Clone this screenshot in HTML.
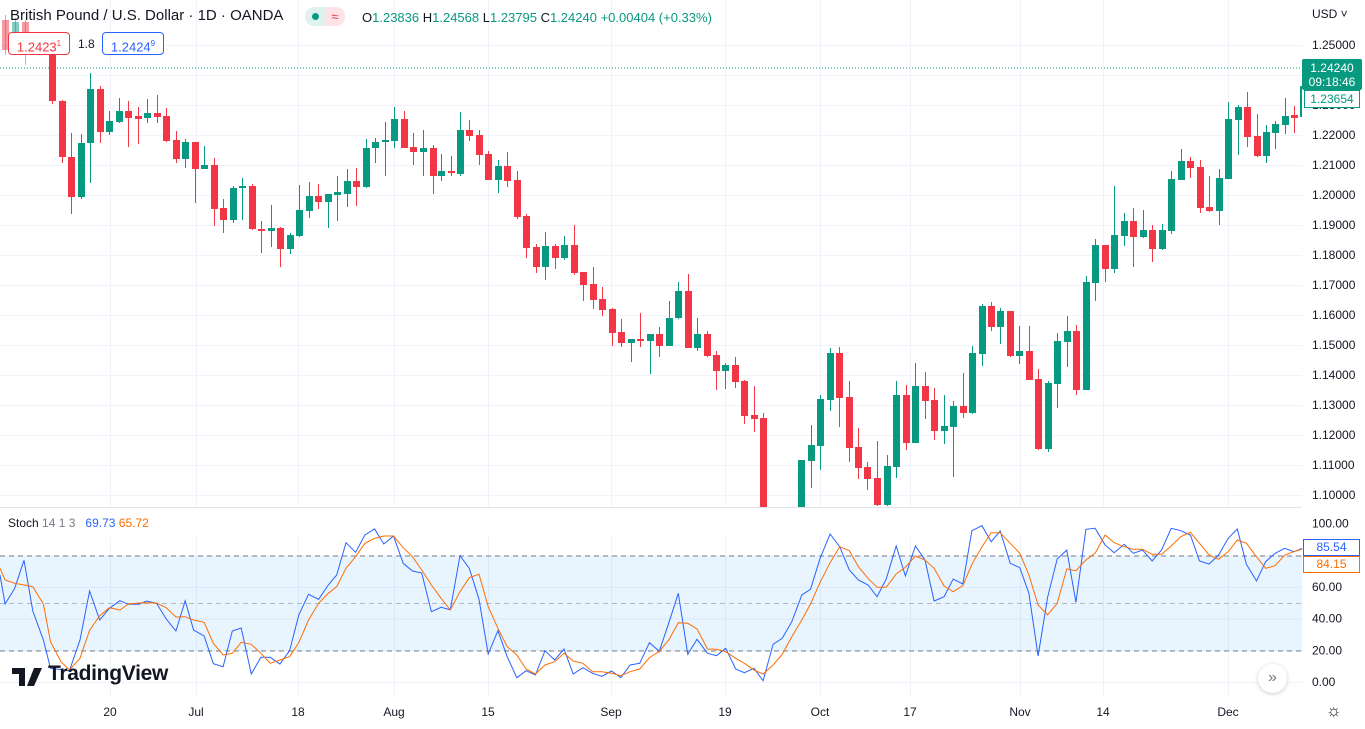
<!DOCTYPE html>
<html><head><meta charset="utf-8">
<style>
html,body{margin:0;padding:0;background:#fff;width:1365px;height:729px;overflow:hidden;font-family:"Liberation Sans",sans-serif;}
#c{position:absolute;left:0;top:0}
.t{position:absolute;white-space:nowrap;color:#131722}
</style></head><body>
<svg id="c" width="1365" height="729" xmlns="http://www.w3.org/2000/svg" font-family="Liberation Sans, sans-serif">
<g id="grid" stroke="#f0f3fa" stroke-width="1"></g>
<rect x="0" y="556" width="1302" height="95" fill="#2196f3" fill-opacity="0.1"/>
<g stroke="#787b86" stroke-dasharray="5,4" stroke-width="1">
<line x1="0" y1="556" x2="1302" y2="556"/>
<line x1="0" y1="603.5" x2="1302" y2="603.5" stroke-opacity="0.5"/>
<line x1="0" y1="651" x2="1302" y2="651"/>
</g>
<line x1="0" y1="68" x2="1302" y2="68" stroke="#089981" stroke-dasharray="1,2"/>
<g id="candles"></g>
<g id="stoch"></g>
<g id="axis" font-size="12" fill="#131722"></g>
</svg>

<div class="t" style="left:10px;top:7px;font-size:15px">British Pound / U.S. Dollar · 1D · OANDA</div>
<div style="position:absolute;left:305px;top:7px;width:20px;height:19px;background:#e0f2ef;border-radius:9px 0 0 9px"></div>
<div style="position:absolute;left:312px;top:13px;width:7px;height:7px;background:#089981;border-radius:50%"></div>
<div style="position:absolute;left:325px;top:7px;width:20px;height:19px;background:#fde3e7;border-radius:0 9px 9px 0;color:#f23645;font-size:13px;text-align:center;line-height:19px">≈</div>
<div class="t" style="left:362px;top:10px;font-size:13px">O<span style="color:#089981">1.23836</span> H<span style="color:#089981">1.24568</span> L<span style="color:#089981">1.23795</span> C<span style="color:#089981">1.24240</span> <span style="color:#089981">+0.00404 (+0.33%)</span></div>
<div style="position:absolute;left:8px;top:32px;width:60px;height:21px;border:1px solid #f23645;border-radius:4px;background:#fff;color:#f23645;font-size:13px;line-height:21px;text-align:center">1.2423<sup style="font-size:8px">1</sup></div>
<div class="t" style="left:78px;top:37px;font-size:12px">1.8</div>
<div style="position:absolute;left:102px;top:32px;width:60px;height:21px;border:1px solid #2962ff;border-radius:4px;background:#fff;color:#2962ff;font-size:13px;line-height:21px;text-align:center">1.2424<sup style="font-size:8px">9</sup></div>
<div class="t" style="left:1312px;top:7px;font-size:12px">USD ˅</div>

<div style="position:absolute;left:1302px;top:59px;width:60px;height:31px;background:#089981;color:#fff;font-size:12px;text-align:center;line-height:14px;padding-top:2px;box-sizing:border-box;border-radius:2px">1.24240<br>09:18:46</div>
<div style="position:absolute;left:1304px;top:90px;width:54px;height:16px;border:1px solid #089981;background:#fff;color:#089981;font-size:12px;text-align:center;line-height:16px">1.23654</div>
<div style="position:absolute;left:1303px;top:539px;width:55px;height:15px;border:1px solid #2962ff;background:#fff;color:#2962ff;font-size:12px;text-align:center;line-height:15px">85.54</div>
<div style="position:absolute;left:1303px;top:556px;width:55px;height:15px;border:1px solid #ff6d00;background:#fff;color:#ff6d00;font-size:12px;text-align:center;line-height:15px">84.15</div>

<div class="t" style="left:8px;top:516px;font-size:12px">Stoch <span style="color:#787b86">14 1 3</span> &nbsp;&nbsp;<span style="color:#2962ff">69.73</span> <span style="color:#ff6d00">65.72</span></div>
<svg style="position:absolute;left:12px;top:668px" width="32" height="18"><path d="M0 0h13v18h-6v-12h-7z M15 0a3 3 0 1 1 0.01 0z M22 0h8l-8 18h-7z" fill="#131722"/></svg>
<div class="t" style="left:48px;top:662px;font-size:21px;font-weight:bold;letter-spacing:-0.3px">TradingView</div>
<div style="position:absolute;left:1258px;top:664px;width:29px;height:29px;border-radius:50%;background:#fff;box-shadow:0 1px 4px rgba(0,0,0,0.2);color:#787b86;text-align:center;line-height:28px;font-size:16px">»</div>
<div class="t" style="left:1326px;top:701px;font-size:17px;color:#131722">☼</div>

<script>
var NS="http://www.w3.org/2000/svg";
function el(p,n,a){var e=document.createElementNS(NS,n);for(var k in a)e.setAttribute(k,a[k]);p.appendChild(e);return e;}
var grid=document.getElementById('grid'),axis=document.getElementById('axis');
var vx=[110,196,298,394,488,611,725,820,910,1020,1103,1228];
vx.forEach(function(x){el(grid,'line',{x1:x+.5,y1:0,x2:x+.5,y2:697});});
var pl=['1.25000','1.24000','1.23000','1.22000','1.21000','1.20000','1.19000','1.18000','1.17000','1.16000','1.15000','1.14000','1.13000','1.12000','1.11000','1.10000'];
pl.forEach(function(s,i){var y=45+i*30;el(grid,'line',{x1:0,y1:y+.5,x2:1302,y2:y+.5});var t=el(axis,'text',{x:1312,y:y+4});t.textContent=s;});
[100,80,60,40,20,0].forEach(function(v){var y=682-v*1.585;el(grid,'line',{x1:0,y1:y+.5,x2:1302,y2:y+.5});var t=el(axis,'text',{x:1312,y:y+4});t.textContent=v.toFixed(2);});
var dl=['20','Jul','18','Aug','15','Sep','19','Oct','17','Nov','14','Dec'];
dl.forEach(function(s,i){var t=el(axis,'text',{x:vx[i],y:716,'text-anchor':'middle'});t.textContent=s;});
var C=[[5,20,50,15,55],[15,45,22,18,50],[25,22,35,20,65],
[52,55,101,50,104],[62,101,157,100,163],[71,157,197,133,214],[81,197,143,134,199],[90,143,89,73,183],[100,89,132,86,143],[109,132,121,111,135],[119,122,111,98,123],[128,111,118,101,147],[138,117,118,107,144],[147,118,113,99,123],[157,113,117,95,123],[166,116,141,108,142],[176,140,159,131,163],[185,159,142,139,168],[195,142,169,142,203],[204,169,165,146,169],[214,165,209,158,226],[223,208,220,199,233],[233,220,188,186,223],[242,188,186,178,220],[252,186,229,184,230],[261,229,231,221,253],[271,230,229,205,247],[280,228,249,227,267],[290,249,235,233,254],[299,236,210,185,237],[309,211,196,182,218],[318,196,202,184,209],[328,202,194,194,228],[337,194,193,176,221],[347,194,181,169,207],[356,181,187,168,206],[366,187,148,139,188],[375,148,142,138,163],[385,142,140,122,176],[394,141,119,107,148],[404,119,148,111,148],[413,147,152,133,165],[423,152,148,130,176],[433,148,176,145,194],
[441,176,171,154,181],[451,171,173,156,176],[460,174,130,112,176],[469,130,136,120,141],[479,135,155,130,165],[488,154,180,151,180],[498,180,166,160,193],[507,166,181,152,187],[517,180,217,171,219],[526,216,248,214,258],[536,247,267,244,273],[545,267,246,232,280],[555,246,258,244,269],[564,258,245,236,260],[574,245,273,225,275],[583,272,285,272,301],[593,284,300,267,309],[602,299,310,287,316],[612,309,333,308,346],[621,332,343,319,347],[631,343,339,339,362],[640,339,341,313,347],[650,341,334,334,374],[659,334,346,327,357],[669,346,318,301,346],[678,318,291,282,319],[688,291,348,274,348],[697,348,334,318,351],[707,334,356,331,357],[716,355,371,351,390],[725,371,365,363,389],[735,365,382,357,388],[744,381,416,380,424],[754,415,419,386,432],[763,418,520,413,520],
[801,520,460,460,520],[811,461,445,425,488],[820,446,399,395,470],[830,400,353,348,411],[839,353,398,347,427],[849,397,448,381,462],[858,447,468,428,479],[867,467,479,462,490],[877,478,505,441,506],[887,505,466,455,506],[896,467,395,381,478],[906,395,443,385,450],[915,443,386,363,443],[925,386,401,372,419],[934,400,431,388,440],[944,431,426,395,444],[953,427,406,401,477],[963,406,413,373,418],[972,413,353,346,414],[982,354,306,304,366],[991,306,327,302,331],[1000,327,311,308,344],[1010,311,356,311,357],[1019,356,351,326,364],[1029,351,380,326,380],[1038,379,449,369,450],[1048,449,383,381,452],[1057,384,341,333,408],[1067,342,331,316,367],[1076,331,390,325,395],[1086,390,282,276,390],[1095,283,245,239,301],[1105,245,269,245,282],[1114,269,235,186,273],[1124,236,221,213,246],[1133,221,237,208,267],[1143,237,230,210,238],[1152,230,249,225,262],[1162,249,230,224,250],[1171,231,179,171,234],[1181,180,161,149,180],[1190,161,168,157,178],[1200,167,208,160,213],[1209,207,211,176,212],[1219,211,178,169,225],[1228,179,119,102,179],[1238,120,107,105,155],[1247,107,137,92,147],[1257,136,156,114,157],[1266,156,132,125,163],[1275,133,124,121,149],[1285,125,116,98,134],[1294,116,117,106,133]];
var cg=document.getElementById('candles');
C.forEach(function(c){var x=c[0],o=c[1],cl=c[2],h=c[3],l=c[4];var col=cl<o?'#089981':'#f23645';var op=(x<30)?0.5:1;
el(cg,'line',{x1:x+.5,y1:h,x2:x+.5,y2:l,stroke:col,'stroke-width':1,'stroke-opacity':op});
var t=Math.min(o,cl),b=Math.max(o,cl);if(b-t<1.5){t-=1;b+=1;}
el(cg,'rect',{x:x-3,y:t,width:7,height:b-t,fill:col,'fill-opacity':op});});
el(cg,'rect',{x:0,y:507,width:1302,height:30,fill:'#fff'});
el(cg,'line',{x1:0,y1:507.5,x2:1302,y2:507.5,stroke:'#e0e3eb'});
el(cg,'line',{x1:1301,y1:86,x2:1301,y2:117,stroke:'#089981','stroke-width':2});
var B="0,210 12,297 35,250 57,166 78,318 103,405 120,490 165,497 190,405 213,258 237,345 260,310 285,287 305,298 330,298 348,288 372,295 395,342 418,378 440,287 460,375 485,393 507,476 530,485 552,378 573,369 597,507 620,457 642,457 665,477 688,437 710,330 733,268 757,283 780,240 800,210 822,113 845,142 867,90 890,72 912,117 935,93 958,175 980,198 1002,204 1025,320 1048,307 1070,314 1093,152 1115,190 1138,283 1160,447 1183,377 1205,455 1228,518 1250,497 1272,510 1295,437 1318,465 1340,432 1362,507 1385,488 1408,505 1430,514 1453,498 1475,518 1497,480 1520,475 1543,413 1565,437";
var O="0,190 12,225 35,235 57,240 78,245 103,297 120,410 145,470 165,495 190,460 213,376 237,332 260,308 285,315 305,297 330,294 348,293 372,294 395,308 418,336 440,335 460,345 485,352 507,415 530,450 552,445 573,412 597,418 620,445 642,475 665,465 688,455 710,413 733,345 757,295 780,265 800,245 822,190 845,155 867,115 890,100 912,93 935,93 958,128 980,155 1002,195 1025,240 1048,280 1070,315 1093,260 1115,218 1138,208 1160,305 1183,370 1205,425 1228,450 1250,492 1272,507 1295,480 1318,470 1340,445 1362,468 1385,475 1408,500 1430,500 1453,505 1475,512 1497,500 1520,492 1543,458 1565,440";
var B2="20,440 42,350 62,265 83,448 103,403 126,445 146,452 166,430 188,492 207,503 228,490 248,527 270,418 290,400 311,350 333,270 352,253 373,160 395,87 416,125 437,195 457,225 478,240 498,275 518,222 540,123 560,213 582,123 603,165 623,288 645,275 665,222 686,237 706,77 728,62 748,110 768,78 790,175 811,188 831,265 851,453 872,277 893,162 914,135 934,292 956,73 976,70 998,120 1018,143 1040,118 1060,145 1080,135 1101,168 1122,135 1143,70 1164,77 1185,90 1205,168 1226,177 1247,150 1268,100 1288,72 1308,178 1330,228 1350,170 1371,145 1392,130 1412,140 1430,130";
var O2="20,440 42,403 62,353 83,355 103,372 126,432 146,433 166,440 188,460 207,475 228,495 248,507 270,480 290,448 311,395 333,345 352,297 373,232 395,173 416,125 437,137 457,185 478,220 498,247 518,247 540,207 560,187 582,153 603,165 623,190 645,243 665,260 686,242 706,178 728,125 748,83 768,83 790,115 811,145 831,210 851,300 872,330 893,295 914,192 934,197 956,165 976,145 998,90 1018,113 1040,125 1060,133 1080,133 1101,148 1122,148 1143,123 1164,95 1185,82 1205,115 1226,150 1247,163 1268,140 1288,105 1308,115 1330,155 1350,190 1371,182 1392,150 1412,140 1430,132";
function tr(s,dx,sx){return s.split(' ').map(function(p){var a=p.split(',');return (dx+a[0]/sx).toFixed(1)+','+(505+a[1]/3).toFixed(1);}).join(' ');}
var sg=document.getElementById('stoch');
el(sg,'polyline',{points:tr(B,0,2.376)+' '+tr(B2,650,2.193),fill:'none',stroke:'#2962ff','stroke-width':1});
el(sg,'polyline',{points:tr(O,0,2.376)+' '+tr(O2,650,2.193),fill:'none',stroke:'#ff6d00','stroke-width':1});
</script>
</body></html>
